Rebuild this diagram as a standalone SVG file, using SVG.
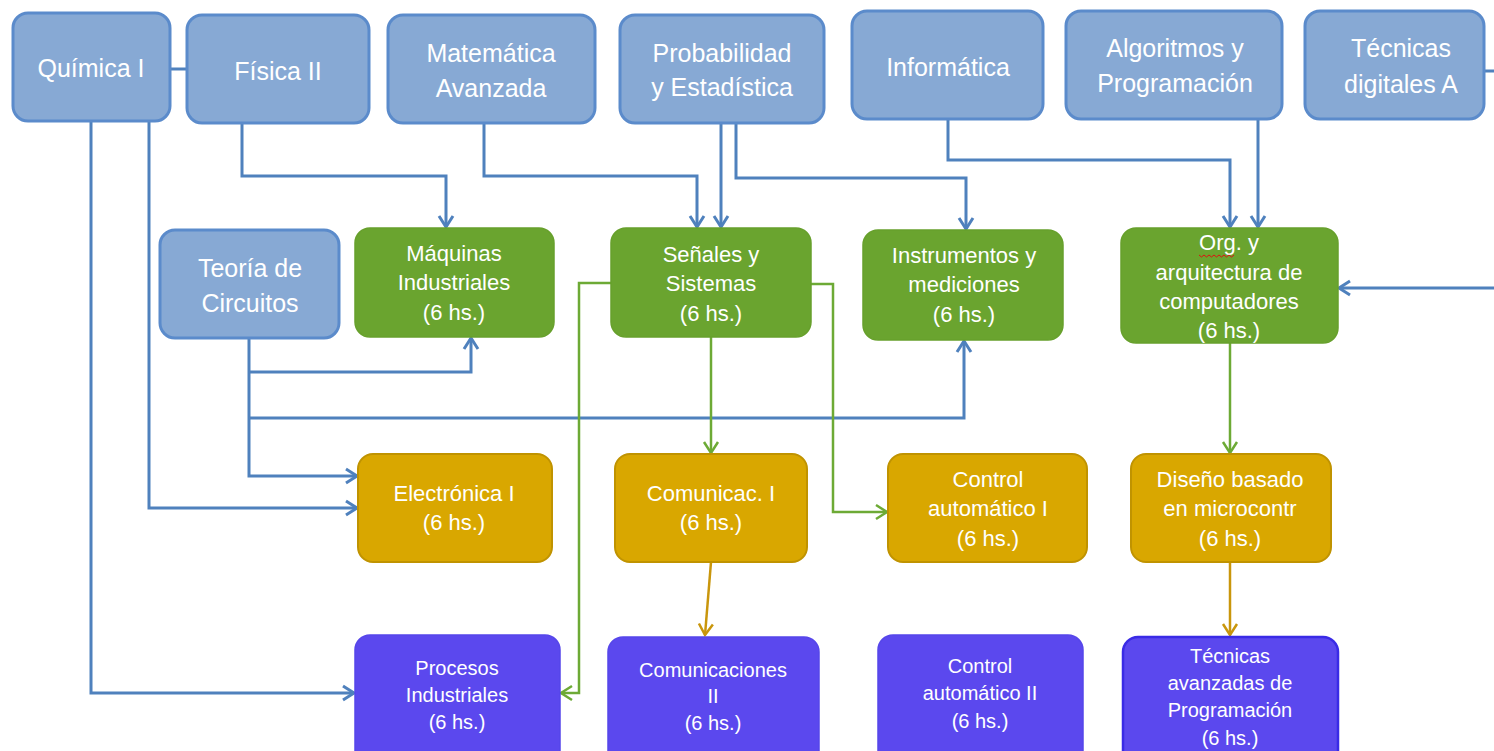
<svg xmlns="http://www.w3.org/2000/svg" width="1494" height="751" viewBox="0 0 1494 751">
<style>
.t{font-family:"Liberation Sans",Arial,sans-serif;fill:#ffffff;text-anchor:middle}
.top{font-size:25px}
.mid{font-size:22px}
.low{font-size:20px}
.blue rect{fill:#87A9D4;stroke:#5B8BCB;stroke-width:3}
.green rect{fill:#6AA42F;stroke:#67A02C;stroke-width:1.5}
.orange rect{fill:#D9A700;stroke:#C09300;stroke-width:2}
.purple rect{fill:#5B48EE;stroke:#5646EA;stroke-width:1.5}
.cb{fill:none;stroke:#4F81BD;stroke-width:3}
.cg{fill:none;stroke:#6DAA35;stroke-width:2.5}
.co{fill:none;stroke:#C9960C;stroke-width:2.5}
</style>
<defs>
<marker id="ab" markerUnits="userSpaceOnUse" markerWidth="16" markerHeight="18" refX="13" refY="8" orient="auto" viewBox="0 0 16 16">
<path d="M2,1 L13,8 L2,15" fill="none" stroke="#4F81BD" stroke-width="3"/>
</marker>
<marker id="ag" markerUnits="userSpaceOnUse" markerWidth="16" markerHeight="18" refX="13" refY="8" orient="auto" viewBox="0 0 16 16">
<path d="M2,1 L13,8 L2,15" fill="none" stroke="#6DAA35" stroke-width="2.5"/>
</marker>
<marker id="ao" markerUnits="userSpaceOnUse" markerWidth="16" markerHeight="18" refX="13" refY="8" orient="auto" viewBox="0 0 16 16">
<path d="M2,1 L13,8 L2,15" fill="none" stroke="#C9960C" stroke-width="2.5"/>
</marker>
</defs>
<rect width="1494" height="751" fill="#ffffff"/>

<g id="connectors">
<path class="cb" d="M169,69 H187"/>
<path class="cb" d="M1484,71 H1494"/>
<path class="cb" d="M242,123 V176 H446 V227" marker-end="url(#ab)"/>
<path class="cb" d="M484,123 V176 H697 V227" marker-end="url(#ab)"/>
<path class="cb" d="M721,123 V227" marker-end="url(#ab)"/>
<path class="cb" d="M736,123 V178 H966 V229" marker-end="url(#ab)"/>
<path class="cb" d="M948,119 V160 H1230 V227" marker-end="url(#ab)"/>
<path class="cb" d="M1258,119 V227" marker-end="url(#ab)"/>
<path class="cb" d="M1494,288 H1339" marker-end="url(#ab)"/>
<path class="cb" d="M249,338 V476 H357" marker-end="url(#ab)"/>
<path class="cb" d="M249,372 H471 V338" marker-end="url(#ab)"/>
<path class="cb" d="M249,418 H964 V341" marker-end="url(#ab)"/>
<path class="cb" d="M149,121 V508 H357" marker-end="url(#ab)"/>
<path class="cb" d="M91,121 V693 H354" marker-end="url(#ab)"/>
<path class="cg" d="M611,283 H579 V693 H561" marker-end="url(#ag)"/>
<path class="cg" d="M811,284 H833 V512 H887" marker-end="url(#ag)"/>
<path class="cg" d="M711,337 V453" marker-end="url(#ag)"/>
<path class="cg" d="M1230,343 V453" marker-end="url(#ag)"/>
<path class="co" d="M711,562 L705,635" marker-end="url(#ao)"/>
<path class="co" d="M1230,562 V635" marker-end="url(#ao)"/>
</g>

<g id="quimica1" class="blue"><rect x="13" y="13" width="157" height="108" rx="15"/><text class="t top" x="91" y="77">Química I</text></g>
<g id="fisica2" class="blue"><rect x="187" y="15" width="182" height="108" rx="15"/><text class="t top" x="278" y="80">Física II</text></g>
<g id="matematica" class="blue"><rect x="388" y="15" width="207" height="108" rx="15"/><text class="t top" x="491" y="62">Matemática</text><text class="t top" x="491" y="97">Avanzada</text></g>
<g id="probabilidad" class="blue"><rect x="620" y="15" width="204" height="108" rx="15"/><text class="t top" x="722" y="62">Probabilidad</text><text class="t top" x="722" y="96">y Estadística</text></g>
<g id="informatica" class="blue"><rect x="852" y="11" width="191" height="108" rx="15"/><text class="t top" x="948" y="76">Informática</text></g>
<g id="algoritmos" class="blue"><rect x="1066" y="11" width="216" height="108" rx="15"/><text class="t top" x="1175" y="57">Algoritmos y</text><text class="t top" x="1175" y="92">Programación</text></g>
<g id="tecnicasdigitales" class="blue"><rect x="1305" y="11" width="179" height="108" rx="15"/><text class="t top" x="1401" y="57">Técnicas</text><text class="t top" x="1401" y="93">digitales A</text></g>
<g id="teoria" class="blue"><rect x="160" y="230" width="179" height="108" rx="15"/><text class="t top" x="250" y="277">Teoría de</text><text class="t top" x="250" y="312">Circuitos</text></g>

<g id="maquinas" class="green"><rect x="355" y="228" width="199" height="109" rx="15"/><text class="t mid" x="454" y="261">Máquinas</text><text class="t mid" x="454" y="290">Industriales</text><text class="t mid" x="454" y="320">(6 hs.)</text></g>
<g id="senales" class="green"><rect x="611" y="228" width="200" height="109" rx="15"/><text class="t mid" x="711" y="262">Señales y</text><text class="t mid" x="711" y="291">Sistemas</text><text class="t mid" x="711" y="321">(6 hs.)</text></g>
<g id="instrumentos" class="green"><rect x="863" y="230" width="200" height="110" rx="15"/><text class="t mid" x="964" y="263">Instrumentos y</text><text class="t mid" x="964" y="292">mediciones</text><text class="t mid" x="964" y="322">(6 hs.)</text></g>
<g id="org" class="green"><rect x="1121" y="228" width="217" height="115" rx="15"/><text class="t mid" x="1229" y="250">Org. y</text><path d="M1199,255 l2.5,2 l2.5,-2 l2.5,2 l2.5,-2 l2.5,2 l2.5,-2 l2.5,2 l2.5,-2 l2.5,2 l2.5,-2 l2.5,2 l2.5,-2 l2.5,2 l2.5,-2" fill="none" stroke="#E01010" stroke-width="1"/><text class="t mid" x="1229" y="280">arquitectura de</text><text class="t mid" x="1229" y="309">computadores</text><text class="t mid" x="1229" y="338">(6 hs.)</text></g>

<g id="electronica1" class="orange"><rect x="358" y="454" width="194" height="108" rx="15"/><text class="t mid" x="454" y="501">Electrónica I</text><text class="t mid" x="454" y="530">(6 hs.)</text></g>
<g id="comunicac1" class="orange"><rect x="615" y="454" width="192" height="108" rx="15"/><text class="t mid" x="711" y="501">Comunicac. I</text><text class="t mid" x="711" y="530">(6 hs.)</text></g>
<g id="control1" class="orange"><rect x="888" y="454" width="199" height="108" rx="15"/><text class="t mid" x="988" y="487">Control</text><text class="t mid" x="988" y="516">automático I</text><text class="t mid" x="988" y="546">(6 hs.)</text></g>
<g id="diseno" class="orange"><rect x="1131" y="454" width="200" height="108" rx="15"/><text class="t mid" x="1230" y="487">Diseño basado</text><text class="t mid" x="1230" y="516">en microcontr</text><text class="t mid" x="1230" y="546">(6 hs.)</text></g>

<g id="procesos" class="purple"><rect x="355" y="635" width="205" height="130" rx="15"/><text class="t low" x="457" y="675">Procesos</text><text class="t low" x="457" y="702">Industriales</text><text class="t low" x="457" y="729">(6 hs.)</text></g>
<g id="comunicaciones2" class="purple"><rect x="608" y="637" width="211" height="130" rx="15"/><text class="t low" x="713" y="677">Comunicaciones</text><text class="t low" x="713" y="703">II</text><text class="t low" x="713" y="730">(6 hs.)</text></g>
<g id="control2" class="purple"><rect x="878" y="635" width="205" height="130" rx="15"/><text class="t low" x="980" y="673">Control</text><text class="t low" x="980" y="700">automático II</text><text class="t low" x="980" y="728">(6 hs.)</text></g>
<g id="tecnicasavanzadas" class="purple"><rect x="1123" y="637" width="215" height="130" rx="15" style="stroke:#3A2BE6;stroke-width:2.5"/><text class="t low" x="1230" y="663">Técnicas</text><text class="t low" x="1230" y="690">avanzadas de</text><text class="t low" x="1230" y="717">Programación</text><text class="t low" x="1230" y="745">(6 hs.)</text></g>
</svg>
